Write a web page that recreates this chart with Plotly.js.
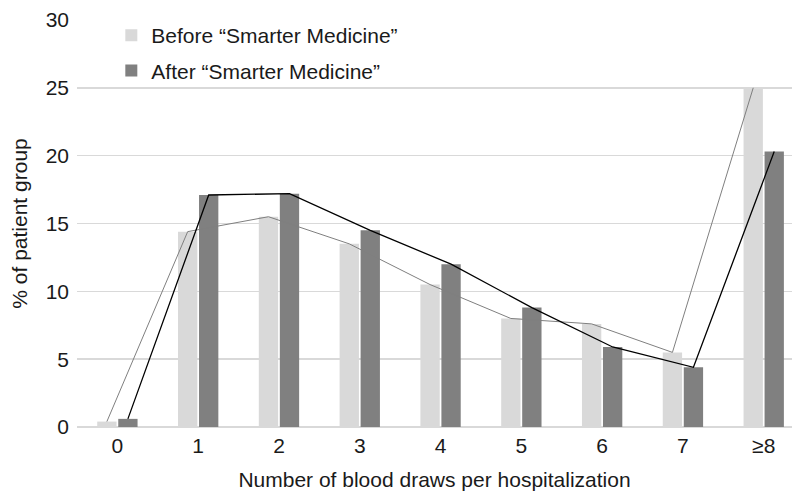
<!DOCTYPE html>
<html><head><meta charset="utf-8">
<script src="https://cdn.plot.ly/plotly-3.0.1.min.js"></script>
<style>html,body{margin:0;padding:0;background:#fff}#chart{width:792px;height:491px}</style>
</head><body><div id="chart"></div>
<script>
const categories = ['0','1','2','3','4','5','6','7','≥8'];
const before = [0.4, 14.4, 15.5, 13.5, 10.5, 8.0, 7.6, 5.5, 25.0];
const after = [0.6, 17.1, 17.2, 14.5, 12.0, 8.8, 5.9, 4.4, 20.3];
const seriesNames = ['Before \u201cSmarter Medicine\u201d', 'After \u201cSmarter Medicine\u201d'];

const traces = [
  {type:'bar', x:categories, y:before, name:seriesNames[0], marker:{color:'#d9d9d9'}, offsetgroup:'a', legendgroup:'a', hoverinfo:'skip'},
  {type:'bar', x:categories, y:after, name:seriesNames[1], marker:{color:'#808080'}, offsetgroup:'b', legendgroup:'b', hoverinfo:'skip'},
  {type:'scatter', mode:'lines', x:categories, y:before, offsetgroup:'a', line:{color:'#7f7f7f', width:1}, showlegend:false, hoverinfo:'skip'},
  {type:'scatter', mode:'lines', x:categories, y:after, offsetgroup:'b', line:{color:'#000000', width:1.3}, showlegend:false, hoverinfo:'skip'}
];

const layout = {
  width:792, height:491,
  margin:{l:77, r:0, t:20, b:64},
  paper_bgcolor:'#fff', plot_bgcolor:'#fff',
  font:{family:'Liberation Sans, Arial, sans-serif', color:'#1a1a1a', size:21},
  barmode:'group', bargap:0.48, bargroupgap:0.08,
  scattermode:'group', scattergap:0.48,
  showlegend:true,
  legend:{x:0.048, y:1.012, xanchor:'left', yanchor:'top', bgcolor:'rgba(0,0,0,0)', font:{size:21, color:'#1a1a1a'},
          traceorder:'grouped', tracegroupgap:5, itemwidth:30},
  xaxis:{type:'category', range:[-0.5, 8.35], showgrid:false, zeroline:false, showline:false, ticks:'', tickfont:{size:21}, ticklabelstandoff:4,
         title:{text:'Number of blood draws per hospitalization', font:{size:21}, standoff:16}},
  yaxis:{range:[0,30], dtick:5, showgrid:true, gridcolor:'#d9d9d9', gridwidth:1.5, zeroline:true, zerolinecolor:'#d9d9d9', zerolinewidth:1.5,
         showline:false, ticks:'', tickfont:{size:21}, ticklabelstandoff:7,
         title:{text:'% of patient group', font:{size:21}, standoff:12}}
};
Plotly.newPlot('chart', traces, layout, {displayModeBar:false, staticPlot:true});
</script></body></html>
